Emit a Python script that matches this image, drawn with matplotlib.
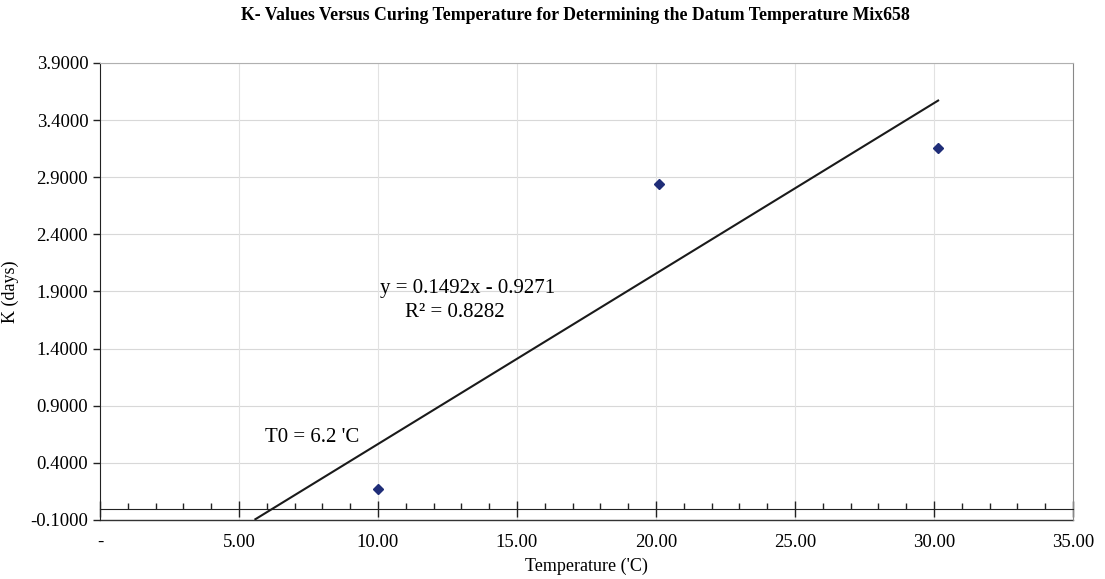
import matplotlib
matplotlib.use("Agg")
import matplotlib.pyplot as plt
import numpy as np
from matplotlib.ticker import FixedLocator, MultipleLocator

temperature = [10.0, 20.1, 30.15]
k_values = [0.17, 2.84, 3.16]
slope = 0.1492
intercept = -0.9271
trend_x = [5.59, 30.15]
x_ticks = [0, 5, 10, 15, 20, 25, 30, 35]
x_tick_labels = ["-", "5.00", "10.00", "15.00", "20.00", "25.00", "30.00", "35.00"]
y_ticks = [-0.1, 0.4, 0.9, 1.4, 1.9, 2.4, 2.9, 3.4, 3.9]

plt.rcParams['font.family'] = ['Liberation Serif', 'DejaVu Serif']

fig = plt.figure(figsize=(11.05, 5.79), dpi=100)
ax = fig.add_axes([0.0905, 0.1019, 0.8805, 0.7893])

ax.set_xlim(0, 35)
ax.set_ylim(-0.1, 3.9)

# grid
for yv in y_ticks:
    ax.axhline(yv, color="#d8d8d8", lw=0.8, zorder=0)
for xv in x_ticks[1:-1]:
    ax.axvline(xv, color="#e2e2e2", lw=0.8, zorder=0)

# data
ax.plot(temperature, k_values, linestyle="none", marker="D", markersize=5,
        color="#1f2d78", zorder=4)
tx = np.array(trend_x)
ax.plot(tx, slope * tx + intercept, color="#1a1a1a", lw=1.5, zorder=3)

# spines
ax.spines['bottom'].set_position(('data', 0))
ax.spines['bottom'].set_color("#222222")
ax.spines['left'].set_color("#222222")
ax.spines['top'].set_color("#b0b0b0")
ax.spines['right'].set_color("#888888")
ax.axhline(-0.1, color="#333333", lw=1.0, zorder=2, clip_on=False)

ax.xaxis.set_major_locator(FixedLocator(x_ticks))
ax.set_xticklabels(x_tick_labels)
ax.xaxis.set_minor_locator(MultipleLocator(1))
ax.tick_params(axis='x', which='major', direction='inout', length=12, width=1,
               pad=12, labelsize=13.5, color="#222222")
ax.tick_params(axis='x', which='minor', direction='in', length=4, width=1,
               color="#222222")

ax.set_yticks(y_ticks)
ax.set_yticklabels([f"{v:.4f}" for v in y_ticks])
ax.tick_params(axis='y', which='major', direction='out', length=5, width=1,
               labelsize=13.5, color="#222222")

ax.set_xlabel("Temperature ('C)", fontsize=13, labelpad=5)
ax.set_ylabel("K (days)", fontsize=13, labelpad=8)

fig.text(0.521, 0.973, "K- Values Versus Curing Temperature for Determining the Datum Temperature Mix658",
         ha="center", va="center", fontsize=12.8, fontweight="bold")

ax.text(13.24, 1.93, "y = 0.1492x - 0.9271", ha="center", va="center", fontsize=15)
ax.text(12.77, 1.72, "R\u00b2 = 0.8282", ha="center", va="center", fontsize=15)
ax.text(7.63, 0.62, "T0 = 6.2 'C", ha="center", va="center", fontsize=15)

fig.savefig("out.png", dpi=100)
